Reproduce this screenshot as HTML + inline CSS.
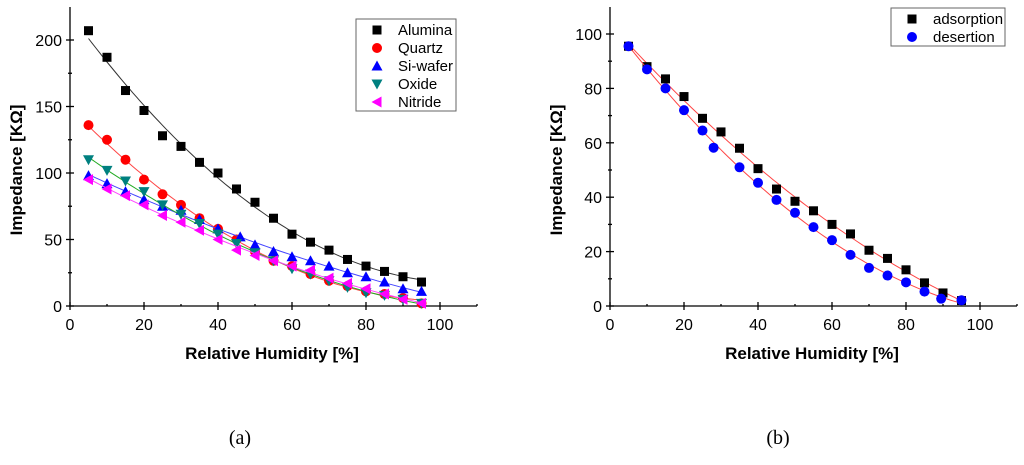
<!DOCTYPE html>
<html><head><meta charset="utf-8"><style>
body{margin:0;background:#fff;}
svg{display:block;font-family:"Liberation Sans",Arial,sans-serif;}
</style></head><body>
<svg id="s" width="1024" height="465" viewBox="0 0 1024 465"></svg>
<script>
const xCats=[5,10,15,20,25,30,35,40,45,50,55,60,65,70,75,80,85,90,95];
const alumina=[207,187,162,147,128,120,108,100,88,78,66,54,48,42,35,30,26,22,18];
const quartz=[136,125,110,95,84,76,66,58,50,41,34,30,24,19,15,11,9,6,2];
const siX=[5,10,15,20,25,30,35,40,46,50,55,60,65,70,75,80,85,90,95];
const siwafer=[98,92,86,80,75,72,65,58,52,46,41,37,34,30,25,22,18,13,11];
const oxide=[110,102,94,86,76,69,62,54,47,40,34,28,24,19,14,10,8,5,2];
const nitride=[95,88,83,76,68,63,57,50,42,38,34,30,27,21,17,13,9,5,2];
const adsX=[5,10,15,20,25,30,35,40,45,50,55,60,65,70,75,80,85,90,95];
const adsorption=[95.5,88,83.5,77,69,64,58,50.5,43,38.5,35,30,26.5,20.5,17.5,13.3,8.5,4.8,2];
const desX=[5,10,15,20,25,28,35,40,45,50,55,60,65,70,75,80,85,89.5,95];
const desertion=[95.5,87,80,72,64.5,58.2,51,45.3,39,34.3,29,24.2,18.8,14,11.2,8.7,5.3,2.7,2.1];
const xTicks=[0,20,40,60,80,100];
const yTicksA=[0,50,100,150,200];
const yTicksB=[0,20,40,60,80,100];

const NS="http://www.w3.org/2000/svg";
const svg=document.getElementById('s');
function mk(tag,attrs,parent){const e=document.createElementNS(NS,tag);for(const k in attrs)e.setAttribute(k,attrs[k]);(parent||svg).appendChild(e);return e;}
function fit(xs,ys){
  let S=[0,0,0,0,0],T=[0,0,0];
  xs.forEach((x,i)=>{let p=1;for(let k=0;k<5;k++){S[k]+=p;p*=x;}T[0]+=ys[i];T[1]+=ys[i]*x;T[2]+=ys[i]*x*x;});
  const M=[[S[0],S[1],S[2],T[0]],[S[1],S[2],S[3],T[1]],[S[2],S[3],S[4],T[2]]];
  for(let i=0;i<3;i++){for(let j=i+1;j<3;j++){const f=M[j][i]/M[i][i];for(let k=i;k<4;k++)M[j][k]-=f*M[i][k];}}
  const c=[0,0,0];for(let i=2;i>=0;i--){let s=M[i][3];for(let k=i+1;k<3;k++)s-=M[i][k]*c[k];c[i]=s/M[i][i];}
  return x=>c[0]+c[1]*x+c[2]*x*x;
}
function marker(g,type,cx,cy,color){
  let e;
  if(type==='sq')e=mk('rect',{x:cx-4.5,y:cy-4.5,width:9,height:9,fill:color},g);
  else if(type==='ci')e=mk('circle',{cx:cx,cy:cy,r:5,fill:color},g);
  else if(type==='up')e=mk('polygon',{points:`${cx},${cy-5.5} ${cx-5.5},${cy+4.5} ${cx+5.5},${cy+4.5}`,fill:color},g);
  else if(type==='dn')e=mk('polygon',{points:`${cx},${cy+5.5} ${cx-5.5},${cy-4.5} ${cx+5.5},${cy-4.5}`,fill:color},g);
  else e=mk('polygon',{points:`${cx-5.5},${cy} ${cx+4.5},${cy-5.5} ${cx+4.5},${cy+5.5}`,fill:color},g);
  return e;
}
function chart(o){
  const xs=v=>o.x0+(v/100)*370, ys=v=>306-(v/o.ymaxTick)*o.ypx;
  const g=mk('g',{});
  
  
  const ax=mk('g',{stroke:'#000','stroke-width':1.3},g);
  
  
  mk('line',{x1:o.x0,y1:7,x2:o.x0,y2:306},ax);
  mk('line',{x1:o.x0,y1:306,x2:o.x0+407,y2:306},ax);
  for(let v=0;v<=110;v+=10){const X=xs(v);const maj=v%20===0;mk('line',{x1:X,y1:maj?302:304,x2:X,y2:maj?310:306},ax);}
  const yt=o.yticks, st=(yt[1]-yt[0])/2;
  for(let v=0;ys(v)>=8;v+=st){const Y=ys(v);const maj=Math.abs(v/(st*2)-Math.round(v/(st*2)))<1e-6;mk('line',{x1:maj?o.x0-4:o.x0-2,y1:Y,x2:maj?o.x0+4:o.x0+2,y2:Y},ax);}
  xTicks.forEach(v=>{const t=mk('text',{x:xs(v),y:330,'font-size':16,'text-anchor':'middle'},g);t.textContent=v;});
  yt.forEach(v=>{const t=mk('text',{x:o.x0-8,y:ys(v)+6,'font-size':16,'text-anchor':'end'},g);t.textContent=v;});
  const xt=mk('text',{x:o.x0+202,y:359,'font-size':17,'font-weight':'bold','text-anchor':'middle'},g);xt.textContent='Relative Humidity [%]';
  
  const yT=mk('text',{x:0,y:0,'font-size':17,'font-weight':'bold','text-anchor':'middle',transform:`translate(${o.x0-48},170) rotate(-90)`},g);yT.textContent='Impedance [KΩ]';
  
  o.series.forEach(s=>{
    const sg=mk('g',{},g);
    
    
    const f=fit(s.x,s.y);let d='';
    for(let v=s.x[0];v<=s.x[s.x.length-1]+0.01;v+=1)d+=(d?'L':'M')+xs(v).toFixed(1)+','+ys(f(v)).toFixed(1);
    const p=mk('path',{d:d,fill:'none',stroke:s.line,'stroke-width':1},sg);
    
    s.x.forEach((x,i)=>{const m=marker(sg,s.m,xs(x),ys(s.y[i]),s.c);});
  });
  const lg=mk('g',{},g);
  
  mk('rect',{x:o.lx,y:o.ly,width:o.lw,height:o.series.length*18+2,fill:'#fff',stroke:'#666','stroke-width':1},lg);
  o.series.forEach((s,i)=>{const cy=o.ly+11+i*18;marker(lg,s.m,o.lx+21,cy,s.c);
    const t=mk('text',{x:o.lx+42,y:cy+5,'font-size':15},lg);t.textContent=s.label;});
  const cap=mk('text',{x:o.capx,y:444,'font-size':20,'font-family':'"Liberation Serif",serif','text-anchor':'middle'},g);cap.textContent=o.cap;
  
}
chart({name:'chart-a',x0:70,ymaxTick:200,ypx:266,yticks:yTicksA,lx:356,ly:19,lw:100,capx:240,cap:'(a)',series:[
 {label:'Alumina',x:xCats,y:alumina,m:'sq',c:'#000',line:'#333'},
 {label:'Quartz',x:xCats,y:quartz,m:'ci',c:'#f00',line:'#f44'},
 {label:'Si-wafer',x:siX,y:siwafer,m:'up',c:'#00f',line:'#44f'},
 {label:'Oxide',x:xCats,y:oxide,m:'dn',c:'#008080',line:'#2a2'},
 {label:'Nitride',x:xCats,y:nitride,m:'lt',c:'#f0f',line:'#f4f'}]});
chart({name:'chart-b',x0:610,ymaxTick:100,ypx:272,yticks:yTicksB,lx:891,ly:8,lw:114,capx:778,cap:'(b)',series:[
 {label:'adsorption',x:adsX,y:adsorption,m:'sq',c:'#000',line:'#f44'},
 {label:'desertion',x:desX,y:desertion,m:'ci',c:'#00f',line:'#f44'}]});
</script>
</body></html>
